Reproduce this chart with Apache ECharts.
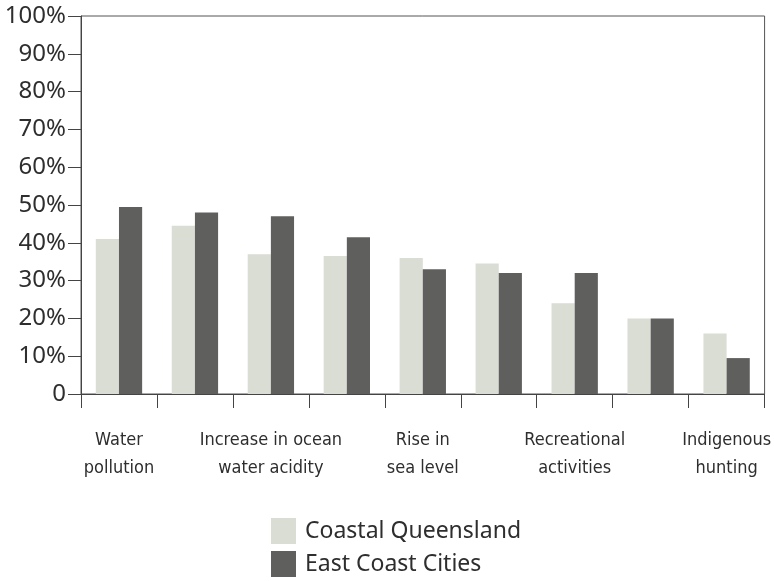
<!DOCTYPE html>
<html><head><meta charset="utf-8">
<script src="https://cdn.jsdelivr.net/npm/echarts@6/dist/echarts.min.js"></script>
<style>html,body{margin:0;padding:0;background:#fff}#c{width:774px;height:581px}</style>
</head><body><div id="c"></div>
<script>
const categories = ['Water\npollution', 'Cat 2', 'Increase in ocean\nwater acidity', 'Cat 4', 'Rise in\nsea level', 'Cat 6', 'Recreational\nactivities', 'Cat 8', 'Indigenous\nhunting'];
const coastalQueensland = [41, 44.5, 37, 36.5, 36, 34.5, 24, 20, 16];
const eastCoastCities = [49.5, 48, 47, 41.5, 33, 32, 32, 20, 9.5];
const seriesNames = ['Coastal Queensland', 'East Coast Cities'];

const legendText = { fontFamily: 'Noto Sans', fontSize: 23, color: '#2e2e2e', padding: [0, 0, 0, 4] };
const chart = echarts.init(document.getElementById('c'));
chart.setOption({
  backgroundColor: '#ffffff',
  animation: false,
  grid: { left: 81, top: 16, right: 8, bottom: 187, show: true, borderColor: '#555', borderWidth: 1 },
  legend: [
    { left: 266, top: 513, icon: 'rect', itemWidth: 25, itemHeight: 26, itemGap: 10, textStyle: legendText, data: [seriesNames[0]] },
    { left: 266, top: 546, icon: 'rect', itemWidth: 25, itemHeight: 26, itemGap: 10, textStyle: legendText, data: [seriesNames[1]] }
  ],
  xAxis: {
    type: 'category', data: categories,
    axisLine: { lineStyle: { color: '#444', width: 1 } },
    axisTick: { show: true, length: 14, interval: 0, lineStyle: { color: '#444' } },
    axisLabel: { interval: 1, margin: 32, fontFamily: 'DejaVu Sans Condensed', fontSize: 18, lineHeight: 28, color: '#2e2e2e' }
  },
  yAxis: {
    type: 'value', min: 0, max: 100, interval: 10,
    axisLine: { show: true, lineStyle: { color: '#444', width: 1 } },
    axisTick: { show: true, length: 13, lineStyle: { color: '#444' } },
    splitLine: { show: false },
    axisLabel: { margin: 15, fontFamily: 'Noto Sans', fontSize: 24, color: '#2e2e2e',
      formatter: v => v === 0 ? '0' : v + '%' }
  },
  series: [
    { name: seriesNames[0], type: 'bar', data: coastalQueensland, barGap: '0%', barCategoryGap: '39%',
      itemStyle: { color: '#d9ddd4' } },
    { name: seriesNames[1], type: 'bar', data: eastCoastCities,
      itemStyle: { color: '#5f605e' } }
  ]
});
</script></body></html>
